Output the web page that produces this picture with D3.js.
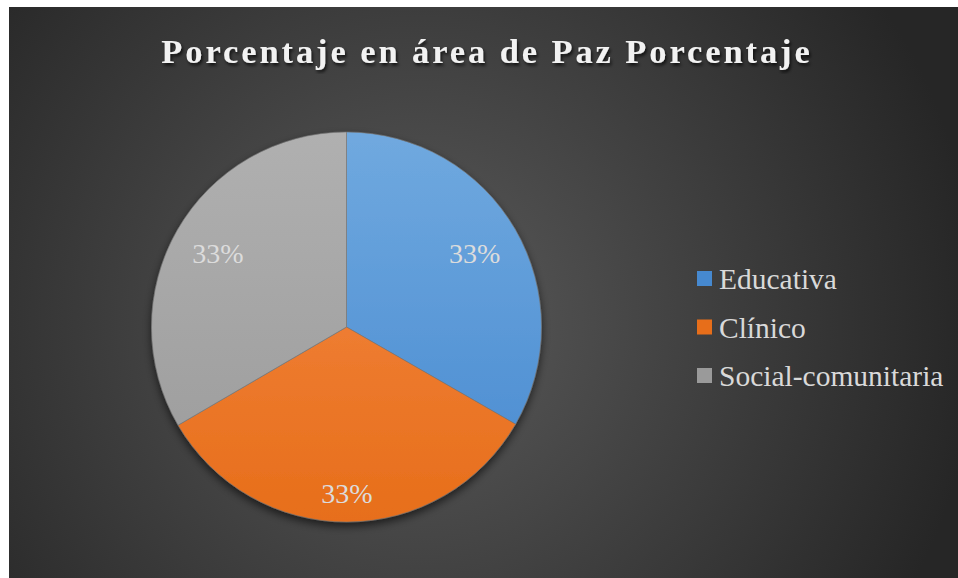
<!DOCTYPE html>
<html><head><meta charset="utf-8">
<script src="https://cdn.jsdelivr.net/npm/d3@7/dist/d3.min.js"></script>
<style>html,body{margin:0;padding:0;background:#fff;}svg{display:block;}</style>
</head><body>
<svg id="c" width="958" height="578"></svg>
<script>
const categories = ["Educativa", "Clínico", "Social-comunitaria"];
const values = [33.3, 33.3, 33.4];
const labels = ["33%", "33%", "33%"];
const title = "Porcentaje en área de Paz Porcentaje";

const svg = d3.select("#c");
const defs = svg.append("defs");
const serif = "'Liberation Serif','Times New Roman',Times,serif";

const bg = defs.append("radialGradient").attr("id","bg").attr("gradientUnits","userSpaceOnUse")
  .attr("cx",420).attr("cy",320).attr("r",560);
bg.append("stop").attr("offset","0").attr("stop-color","#5a5a5a");
bg.append("stop").attr("offset","1").attr("stop-color","#262626");

const grads = [["#70a9df","#4689d0"],["#f58a48","#e76e1a"],["#b0b0b0","#9a9a9a"]];
grads.forEach((g,i)=>{
  const lg = defs.append("linearGradient").attr("id","g"+i).attr("gradientUnits","userSpaceOnUse")
    .attr("x1",0).attr("y1",-195).attr("x2",0).attr("y2",195);
  lg.append("stop").attr("offset","0").attr("stop-color",g[0]);
  lg.append("stop").attr("offset","1").attr("stop-color",g[1]);
});
const sh = defs.append("filter").attr("id","sh").attr("x","-20%").attr("y","-20%").attr("width","140%").attr("height","140%");
sh.append("feDropShadow").attr("dx",0).attr("dy",4).attr("stdDeviation",4).attr("flood-color","#000").attr("flood-opacity",0.6);
const tsh = defs.append("filter").attr("id","tsh");
tsh.append("feDropShadow").attr("dx",1.5).attr("dy",2.5).attr("stdDeviation",1.8).attr("flood-color","#000").attr("flood-opacity",0.7);

svg.append("rect").attr("x",9).attr("y",7).attr("width",949).attr("height",571).attr("fill","url(#bg)");

svg.append("text").attr("x",487).attr("y",63).attr("text-anchor","middle")
  .attr("font-family",serif).attr("font-weight","bold")
  .attr("font-size",34.5).attr("letter-spacing",2.9).attr("fill","#f2f2f2").attr("filter","url(#tsh)")
  .text(title);

const cx = 346.5, cy = 327, R = 195;
const color = d3.scaleOrdinal().domain(categories).range(["url(#g0)","url(#g1)","url(#g2)"]);
const pie = d3.pie().sort(null).value(d=>d)(values);
const arc = d3.arc().innerRadius(0).outerRadius(R);
const g = svg.append("g").attr("transform",`translate(${cx},${cy})`);
g.append("g").attr("filter","url(#sh)").selectAll("path").data(pie).join("path")
  .attr("d",arc).attr("fill",(d,i)=>color(categories[i])).attr("stroke","#777").attr("stroke-width",0.6);

const labelFactor = [0.76, 0.85, 0.76];
g.selectAll("text.lbl").data(pie).join("text").attr("class","lbl")
  .attr("transform",(d,i)=>{
    const a = (d.startAngle+d.endAngle)/2, r = R*labelFactor[i];
    return `translate(${Math.sin(a)*r},${-Math.cos(a)*r})`;
  })
  .attr("text-anchor","middle").attr("dy","0.35em")
  .attr("font-family",serif).attr("font-size",28)
  .attr("fill","#dcdcdc").text((d,i)=>labels[i]);

const y = d3.scalePoint().domain(categories).range([279,376]);
const lg = svg.append("g");
categories.forEach((c,i)=>{
  lg.append("rect").attr("x",697).attr("y",y(c)-8).attr("width",15).attr("height",15)
    .attr("fill",color(c));
  lg.append("text").attr("x",719).attr("y",y(c)).attr("dy","0.35em")
    .attr("font-family",serif).attr("font-size",29.5)
    .attr("fill","#d9d9d9").text(c);
});
</script>
</body></html>
